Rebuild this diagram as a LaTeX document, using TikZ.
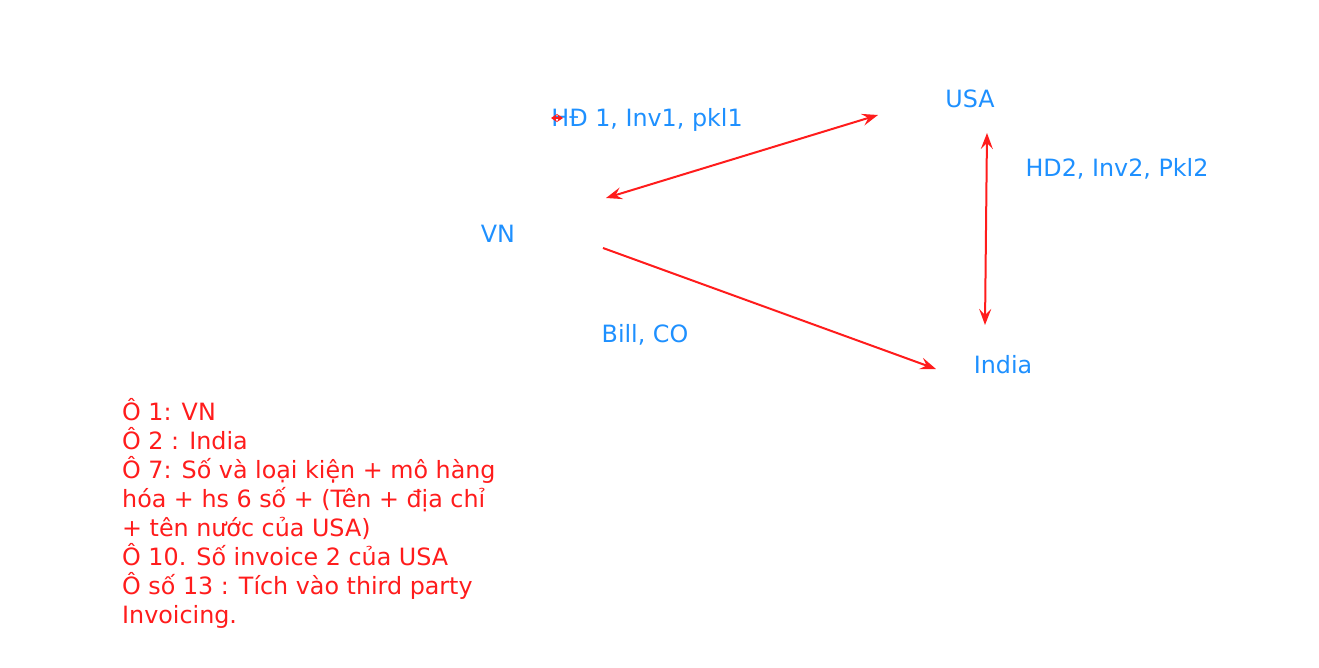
\documentclass[tikz,border=0pt]{standalone}
\usepackage{fontspec}
\setmainfont{DejaVu Sans}
\usetikzlibrary{arrows.meta}
\definecolor{placeblue}{RGB}{30,144,255}
\definecolor{linkred}{RGB}{255,28,28}

\begin{document}
\begin{tikzpicture}[x=1pt,y=-1pt,
		place/.style={text=placeblue,font=\fontsize{23.8}{28}\selectfont,inner sep=0pt},
		link/.style={draw=linkred,line width=2pt},
		>={Stealth[length=16pt,width=12pt,inset=6pt]}]
			\useasboundingbox (0,0) rectangle (1319,667);

			% Places and labels
			\node[place] (vn) at (498,234) {VN};
			\node[place] (usa) at (970,99) {USA};
			\node[place] (india) at (1003,365) {India};

			\node[place] (docsA) at (647,120) {HĐ 1, Inv1, pkl1};
			\node[place] (docsB) at (1117,169) {HD2, Inv2, Pkl2};
			\node[place] (bill) at (645,335) {Bill, CO};

			% Arrow ends
			\coordinate (A) at (606,198);
			\coordinate (B) at (878,115);
			\coordinate (C) at (987,133);
			\coordinate (D) at (985,325);
			\coordinate (E) at (603,248);
			\coordinate (F) at (936,369);
			\coordinate (G) at (551,118);
			\coordinate (H) at (563,118);

			% Arrows
			\draw[link,<->] (A) -- (B);
			\draw[link,<->] (C) -- (D);
			\draw[link,->] (E) -- (F);
			\draw[link,line width=1.2pt,{Stealth[length=6pt,width=8pt]}-{Stealth[length=6pt,width=8pt]}] (G) -- (H);

			% Notes
			\node[anchor=north west,inner sep=0pt,align=left,text=linkred,
				font=\fontsize{23.8}{29}\selectfont] (notes) at (122,398)
				{Ô 1: VN\\
				Ô 2 : India\\
				Ô 7: Số và loại kiện + mô hàng\\
				hóa + hs 6 số + (Tên + địa chỉ\\
				+ tên nước của USA)\\
				Ô 10. Số invoice 2 của USA\\
				Ô số 13 : Tích vào third party\\
				Invoicing.};
		\end{tikzpicture}
\end{document}
